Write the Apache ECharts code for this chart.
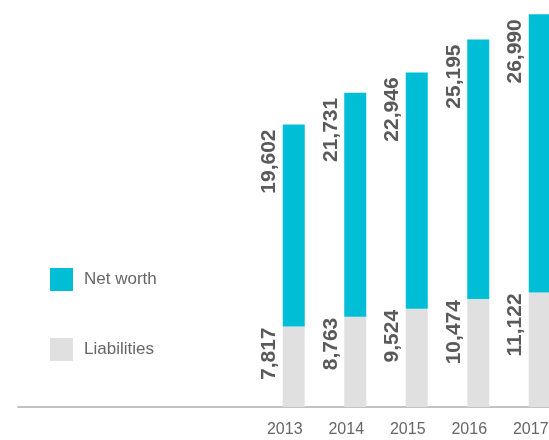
<!DOCTYPE html>
<html>
<head>
<meta charset="utf-8">
<style>
  html, body { margin: 0; padding: 0; background: #ffffff; }
  #chart { width: 549px; height: 440px; }
</style>
<script src="https://cdn.jsdelivr.net/npm/echarts@6/dist/echarts.min.js"></script>
</head>
<body>
<div id="chart"></div>
<script>
// Balance sheet composition by year
const years = ['2013', '2014', '2015', '2016', '2017'];
const liabilities = [7817, 8763, 9524, 10474, 11122];
const netWorth = [19602, 21731, 22946, 25195, 26990];

const FONT = '"Liberation Sans", Arial, sans-serif';
const fmt = v => v.toLocaleString('en-US');

// vertical value label sitting just left of the segment, reading upwards
const valueLabel = (dy) => ({
  show: true,
  position: [-3, dy],
  rotate: 90,
  align: 'right',
  verticalAlign: 'bottom',
  fontFamily: FONT,
  fontSize: 21,
  fontWeight: 'bold',
  color: '#5a5a5a',
  formatter: p => fmt(p.value)
});

const chart = echarts.init(document.getElementById('chart'), null, { renderer: 'canvas' });
chart.setOption({
  animation: false,
  backgroundColor: '#ffffff',
  grid: [
    // plot area holding the bars; the last band runs past the right edge
    { left: 263, width: 307.5, top: 0, bottom: 33, outerBoundsMode: 'none', containLabel: false },
    // full-width baseline rule
    { left: 18, right: 0, top: 0, bottom: 33, outerBoundsMode: 'none', containLabel: false }
  ],
  legend: {
    orient: 'vertical',
    left: 50,
    top: 268,
    padding: 0,
    itemWidth: 23,
    itemHeight: 23,
    itemGap: 47,
    icon: 'rect',
    textStyle: { fontFamily: FONT, fontSize: 17, color: '#666666', padding: [4, 0, 0, 6] },
    data: ['Net worth', 'Liabilities']
  },
  xAxis: [
    {
      gridIndex: 0,
      type: 'category',
      data: years,
      axisTick: { show: false },
      axisLine: { show: false },
      axisLabel: {
        fontFamily: FONT,
        fontSize: 16,
        color: '#666666',
        margin: 15,
        padding: [0, 18, 0, 0]
      }
    },
    {
      gridIndex: 1,
      type: 'value',
      min: 0,
      max: 1,
      axisTick: { show: false },
      axisLabel: { show: false },
      splitLine: { show: false },
      axisLine: { show: true, lineStyle: { color: '#c2c2c2', width: 2 } }
    }
  ],
  yAxis: [
    { gridIndex: 0, type: 'value', min: 0, max: 39500, show: false },
    { gridIndex: 1, type: 'value', min: 0, max: 1, show: false }
  ],
  series: [
    {
      name: 'Liabilities',
      type: 'bar',
      stack: 'total',
      barWidth: 22,
      itemStyle: { color: '#e0e0e0' },
      label: valueLabel(1),
      data: liabilities
    },
    {
      name: 'Net worth',
      type: 'bar',
      stack: 'total',
      barWidth: 22,
      itemStyle: { color: '#00bed6' },
      label: valueLabel(5),
      data: netWorth
    }
  ]
});
</script>
</body>
</html>
